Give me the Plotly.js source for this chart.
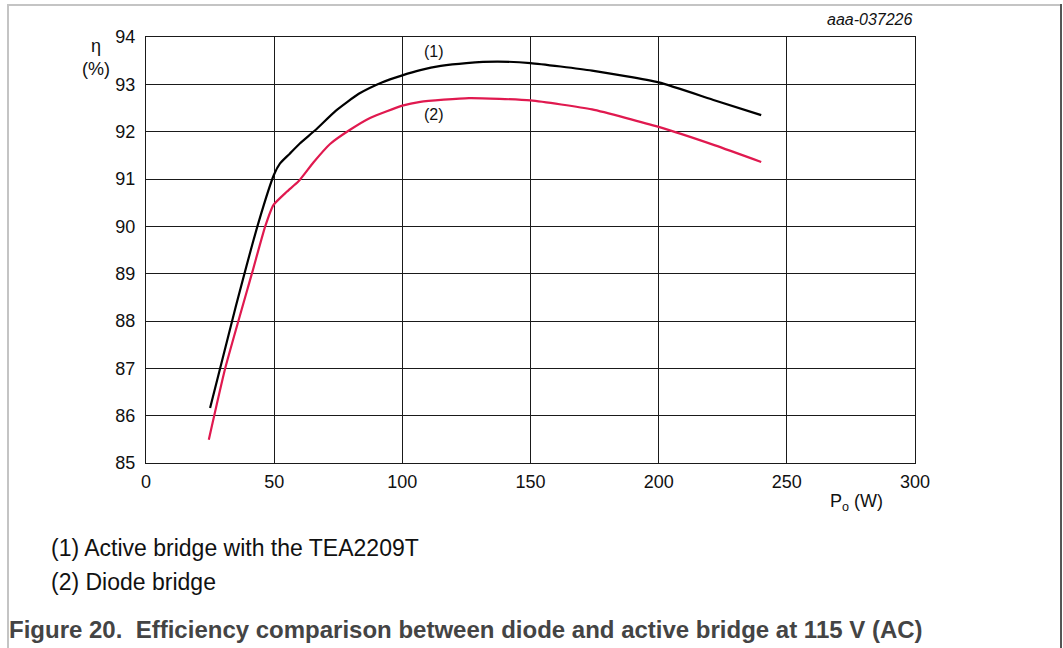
<!DOCTYPE html>
<html>
<head>
<meta charset="utf-8">
<script src="https://cdn.plot.ly/plotly-3.0.1.min.js"></script>
<style>
  html, body { margin: 0; padding: 0; background: #fff; }
  #wrap { position: relative; width: 1063px; height: 648px; }
  #chart { position: absolute; left: 0; top: 0; width: 1063px; height: 648px; }
  .ln { position: absolute; }
</style>
</head>
<body>
<div id="wrap">
  <div class="ln" style="left:7px; top:4px; width:1054px; height:2px; background:#c4c4c4;"></div>
  <div class="ln" style="left:7px; top:4px; width:2px; height:644px; background:#c4c4c4;"></div>
  <div class="ln" style="left:1060px; top:4px; width:2px; height:644px; background:#555;"></div>
  <div id="chart"></div>
</div>
<script>
// Series (1): active bridge with the TEA2209T
const activeX = [25, 35, 44, 50, 52.3, 56, 60, 66, 74, 83, 92, 100, 107, 115, 125, 137, 150, 174, 200, 222, 240];
const activeY = [86.16, 88.3, 90.1, 91.1, 91.33, 91.53, 91.75, 92.03, 92.44, 92.8, 93.04, 93.19, 93.3, 93.39, 93.45, 93.48, 93.45, 93.29, 93.04, 92.66, 92.35];
// Series (2): diode bridge
const diodeX = [24.5, 30.9, 41.3, 46.5, 49.7, 54.9, 59.5, 65.3, 71.8, 79.6, 87.4, 100, 107, 126, 150, 174, 200, 222, 240];
const diodeY = [85.49, 87.0, 89.0, 90.0, 90.45, 90.73, 90.95, 91.35, 91.74, 92.04, 92.29, 92.55, 92.63, 92.71, 92.66, 92.47, 92.10, 91.71, 91.36];

const xTicks = [0, 50, 100, 150, 200, 250, 300];
const yTicks = [85, 86, 87, 88, 89, 90, 91, 92, 93, 94];

const FONT = 'Liberation Sans, Arial, sans-serif';

const traces = [
  { x: activeX, y: activeY, mode: 'lines', line: { color: '#000000', width: 2.2, shape: 'spline', smoothing: 0.5 }, hoverinfo: 'skip', name: '(1)' },
  { x: diodeX, y: diodeY, mode: 'lines', line: { color: '#e0194f', width: 2.2, shape: 'spline', smoothing: 0.5 }, hoverinfo: 'skip', name: '(2)' }
];

const layout = {
  width: 1063, height: 648,
  margin: { l: 146, r: 148, t: 37, b: 185 },
  paper_bgcolor: 'rgba(0,0,0,0)',
  plot_bgcolor: 'rgba(0,0,0,0)',
  showlegend: false,
  font: { family: FONT, color: '#111', size: 18 },
  xaxis: {
    range: [0, 300], tickvals: xTicks, ticktext: xTicks.map(String),
    showgrid: true, gridcolor: '#1a1a1a', gridwidth: 1,
    showline: true, linecolor: '#1a1a1a', linewidth: 1, mirror: true,
    zeroline: false, ticks: 'outside', ticklen: 2, tickcolor: 'rgba(0,0,0,0)',
    tickfont: { family: FONT, size: 18, color: '#111' }, fixedrange: true
  },
  yaxis: {
    range: [85, 94], tickvals: yTicks, ticktext: yTicks.map(String),
    showgrid: true, gridcolor: '#1a1a1a', gridwidth: 1,
    showline: true, linecolor: '#1a1a1a', linewidth: 1, mirror: true,
    zeroline: false, ticks: 'outside', ticklen: 6, tickcolor: 'rgba(0,0,0,0)',
    tickfont: { family: FONT, size: 18, color: '#111' }, fixedrange: true
  },
  annotations: [
    { text: 'η', xref: 'paper', yref: 'paper', x: (96 - 146) / 769, y: (463 - 46) / 426, xanchor: 'center', yanchor: 'middle', showarrow: false, font: { family: FONT, size: 18, color: '#111' } },
    { text: '(%)', xref: 'paper', yref: 'paper', x: (96 - 146) / 769, y: (463 - 69) / 426, xanchor: 'center', yanchor: 'middle', showarrow: false, font: { family: FONT, size: 18, color: '#111' } },
    { text: 'P<sub>o</sub> (W)', xref: 'paper', yref: 'paper', x: (856 - 146) / 769, y: (463 - 502) / 426, xanchor: 'center', yanchor: 'middle', showarrow: false, font: { family: FONT, size: 18, color: '#111' } },
    { text: '<i>aaa-037226</i>', xref: 'paper', yref: 'paper', x: 1, y: (463 - 20) / 426, xanchor: 'right', yanchor: 'middle', showarrow: false, font: { family: FONT, size: 16, color: '#111' } },
    { text: '(1)', xref: 'x', yref: 'paper', x: 112.5, y: (463 - 52) / 426, xanchor: 'center', yanchor: 'middle', showarrow: false, font: { family: FONT, size: 16, color: '#111' } },
    { text: '(2)', xref: 'x', yref: 'paper', x: 112.5, y: (463 - 114) / 426, xanchor: 'center', yanchor: 'middle', showarrow: false, font: { family: FONT, size: 16, color: '#111' } },
    { text: '(1) Active bridge with the TEA2209T', xref: 'paper', yref: 'paper', x: (49 - 146) / 769, y: (463 - 548) / 426, xanchor: 'left', yanchor: 'middle', showarrow: false, font: { family: FONT, size: 23, color: '#111' } },
    { text: '(2) Diode bridge', xref: 'paper', yref: 'paper', x: (49 - 146) / 769, y: (463 - 582) / 426, xanchor: 'left', yanchor: 'middle', showarrow: false, font: { family: FONT, size: 23, color: '#111' } },
    { text: '<b>Figure 20.  Efficiency comparison between diode and active bridge at 115 V (AC)</b>', xref: 'paper', yref: 'paper', x: (7 - 146) / 769, y: (463 - 629) / 426, xanchor: 'left', yanchor: 'middle', showarrow: false, font: { family: FONT, size: 24, color: '#444' } }
  ]
};

Plotly.newPlot('chart', traces, layout, { staticPlot: true, displayModeBar: false });
</script>
</body>
</html>
